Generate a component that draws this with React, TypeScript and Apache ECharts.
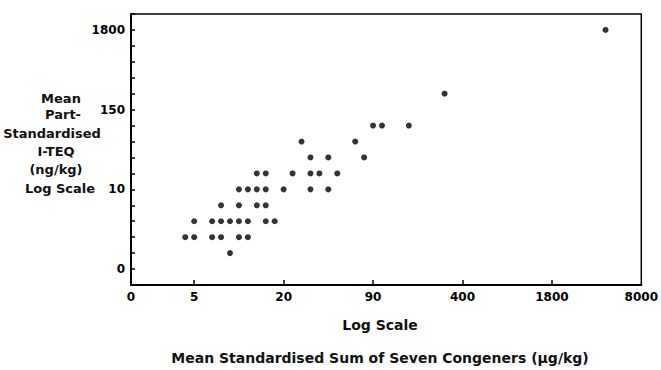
import React, { useEffect, useRef } from "react";
import * as echarts from "echarts";

// Axis positions on the plot's log scale (label index units)
const xTickLabels = ["0", "5", "20", "90", "400", "1800", "8000"];
const xTickPositions = [0.293, 1, 2, 3, 4, 5, 6];
const yTickLabels = ["0", "10", "150", "1800"];
const yTickPositions = [0, 1, 2, 3];

// Points, in the same log-scale units
const xLog = [
  1.4,
  0.9, 1.0, 1.2, 1.3, 1.5, 1.6,
  1.0, 1.2, 1.3, 1.4, 1.5, 1.6, 1.8, 1.9,
  1.3, 1.5, 1.7, 1.8,
  1.5, 1.6, 1.7, 1.8, 2.0, 2.3, 2.5,
  1.7, 1.8, 2.1, 2.3, 2.4, 2.6,
  2.3, 2.5, 2.9,
  2.2, 2.8,
  3.0, 3.1, 3.4,
  3.8,
  5.6,
];
const yLog = [
  0.2,
  0.4, 0.4, 0.4, 0.4, 0.4, 0.4,
  0.6, 0.6, 0.6, 0.6, 0.6, 0.6, 0.6, 0.6,
  0.8, 0.8, 0.8, 0.8,
  1.0, 1.0, 1.0, 1.0, 1.0, 1.0, 1.0,
  1.2, 1.2, 1.2, 1.2, 1.2, 1.2,
  1.4, 1.4, 1.4,
  1.6, 1.6,
  1.8, 1.8, 1.8,
  2.2,
  3.0,
];

const yTitleLines = ["Mean", "Part-", "Standardised", "I-TEQ", "(ng/kg)", "Log Scale"];
const xTitle1 = "Log Scale";
const xTitle2 = "Mean Standardised Sum of Seven Congeners (µg/kg)";

const FONT = "DejaVu Sans";

export default function App() {
  const ref = useRef<HTMLDivElement>(null);
  useEffect(() => {
    if (!ref.current) return;
    const chart = echarts.init(ref.current, null, { renderer: "svg" });
    const yLineX = [61, 63, 52, 56, 56, 60];
    const yLineY = [98, 114, 133, 151, 169, 188];
    const textStyle = (t: string, size: number) => ({
      text: t,
      fill: "#111",
      font: `bold ${size}px "${FONT}"`,
      textAlign: "center",
      textVerticalAlign: "middle",
    });
    chart.setOption({
      animation: false,
      backgroundColor: "#fff",
      grid: {
        left: 131,
        right: 17,
        top: 14,
        bottom: 85,
        show: true,
        borderColor: "#000",
        borderWidth: 1.5,
        backgroundColor: "transparent",
      },
      xAxis: {
        type: "value",
        min: xTickPositions[0],
        max: xTickPositions[xTickPositions.length - 1],
        splitLine: { show: false },
        axisLine: { show: true, onZero: false, lineStyle: { color: "#000", width: 2 } },
        axisTick: {
          show: true,
          inside: true,
          length: 5,
          customValues: xTickPositions.slice(1, -1),
          lineStyle: { color: "#000", width: 1.5 },
        },
        axisLabel: {
          customValues: xTickPositions,
          margin: 6,
          color: "#000",
          fontFamily: FONT,
          fontWeight: "bold",
          fontSize: 12,
          formatter: (v: number) => {
            let best = 0;
            xTickPositions.forEach((p, i) => {
              if (Math.abs(p - v) < Math.abs(xTickPositions[best] - v)) best = i;
            });
            return xTickLabels[best];
          },
        },
      },
      yAxis: {
        type: "value",
        min: -0.2,
        max: 3.2,
        interval: 0.2,
        splitLine: { show: false },
        axisLine: { show: true, onZero: false, lineStyle: { color: "#000", width: 2 } },
        axisTick: { show: true, inside: true, length: 4, lineStyle: { color: "#000", width: 1.5 } },
        axisLabel: {
          margin: 6,
          color: "#000",
          fontFamily: FONT,
          fontWeight: "bold",
          fontSize: 12,
          showMinLabel: true,
          showMaxLabel: true,
          formatter: (v: number) => {
            const r = Math.round(v);
            if (Math.abs(v - r) < 1e-6) {
              const i = yTickPositions.indexOf(r);
              return i >= 0 ? yTickLabels[i] : "";
            }
            return "";
          },
        },
      },
      graphic: [
        ...yTitleLines.map((t, i) => ({
          type: "text",
          x: yLineX[i],
          y: yLineY[i],
          style: textStyle(t, 13),
        })),
        { type: "text", x: 380, y: 325, style: textStyle(xTitle1, 14) },
        { type: "text", x: 380, y: 358, style: textStyle(xTitle2, 14) },
      ],
      series: [
        {
          type: "scatter",
          symbol: "circle",
          symbolSize: 6,
          itemStyle: { color: "#000" },
          data: xLog.map((x, i) => [x, yLog[i]]),
        },
      ],
    });
    return () => chart.dispose();
  }, []);
  return (
    <div
      ref={ref}
      style={{ position: "fixed", left: 0, top: 0, width: 661, height: 370, background: "#fff" }}
    />
  );
}
